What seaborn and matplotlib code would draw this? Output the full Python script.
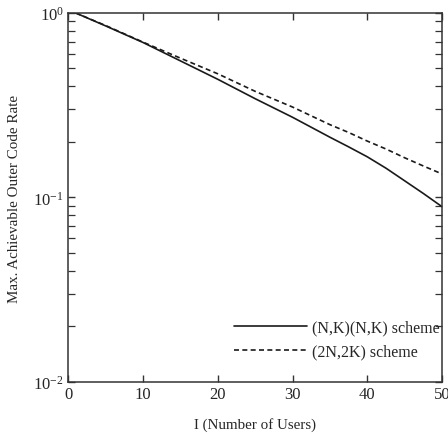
import matplotlib
matplotlib.use("Agg")
import matplotlib.pyplot as plt
import seaborn as sns
import pandas as pd
import numpy as np
from matplotlib.lines import Line2D
from matplotlib.ticker import LogLocator, FixedLocator, NullFormatter

users = [1, 5, 10, 15, 20, 25, 30, 35, 37.5, 40, 42.5, 45, 47.5, 50]
rate_nk_nk = [1.0, 0.851, 0.692, 0.550, 0.437, 0.343, 0.272, 0.212, 0.188,
              0.166, 0.144, 0.123, 0.105, 0.089]
rate_2n_2k = [1.0, 0.855, 0.695, 0.569, 0.468, 0.376, 0.309, 0.248, 0.225,
              0.202, 0.183, 0.164, 0.148, 0.134]
series_names = ["(N,K)(N,K) scheme", "(2N,2K) scheme"]
x_ticks = [0, 10, 20, 30, 40, 50]
y_ticks = [1e-2, 1e-1, 1e0]
y_tick_labels = ["$10^{-2}$", "$10^{-1}$", "$10^{0}$"]

df = pd.DataFrame({
    "I": users * 2,
    "rate": rate_nk_nk + rate_2n_2k,
    "scheme": [series_names[0]] * len(users) + [series_names[1]] * len(users),
})

sns.set_style("ticks")
plt.rcParams["font.family"] = ["Liberation Serif", "DejaVu Serif"]
plt.rcParams["mathtext.fontset"] = "custom"
plt.rcParams["mathtext.rm"] = "Liberation Serif"
plt.rcParams["mathtext.it"] = "Liberation Serif:italic"

line_color = "#1a1a1a"
dash_map = {series_names[0]: "", series_names[1]: (3, 2)}

fig = plt.figure(figsize=(4.48, 4.35), dpi=100)
ax = fig.add_axes([0.152, 0.1195, 0.835, 0.8485])

sns.lineplot(data=df, x="I", y="rate", style="scheme", color=line_color,
             dashes=dash_map, linewidth=1.2, ax=ax, legend=False)

ax.set_yscale("log")
ax.set_xlim(0, 50)
ax.set_ylim(1e-2, 1e0)
ax.xaxis.set_major_locator(FixedLocator(x_ticks))
ax.set_xticklabels([str(t) for t in x_ticks], fontsize=12)
ax.yaxis.set_major_locator(FixedLocator(y_ticks))
ax.set_yticklabels(y_tick_labels, fontsize=12)
ax.yaxis.set_minor_locator(LogLocator(base=10, subs=np.arange(2, 10)))
ax.yaxis.set_minor_formatter(NullFormatter())
ax.tick_params(which="both", direction="in", top=True, right=True, color="#333333")
ax.tick_params(which="major", length=5, width=1, pad=3)
ax.tick_params(which="minor", length=5, width=0.9)
for s in ax.spines.values():
    s.set_linewidth(1.1)
    s.set_color("#333333")

ax.set_xlabel("I (Number of Users)", fontsize=10.8)
ax.set_ylabel("Max. Achievable Outer Code Rate", fontsize=10.8)
ax.xaxis.set_label_coords(0.5, -0.095)
ax.yaxis.set_label_coords(-0.125, 0.5)

handles = [
    Line2D([], [], color=line_color, linewidth=1.2, linestyle="-"),
    Line2D([], [], color=line_color, linewidth=1.2, linestyle=(0, (3, 2))),
]
leg = ax.legend(handles, series_names, loc="lower right",
                bbox_to_anchor=(1.01, 0.044), frameon=False,
                handlelength=4.6, fontsize=11.5, borderaxespad=0.0,
                handletextpad=0.3, labelspacing=0.5)

fig.savefig("out.png", dpi=100)
